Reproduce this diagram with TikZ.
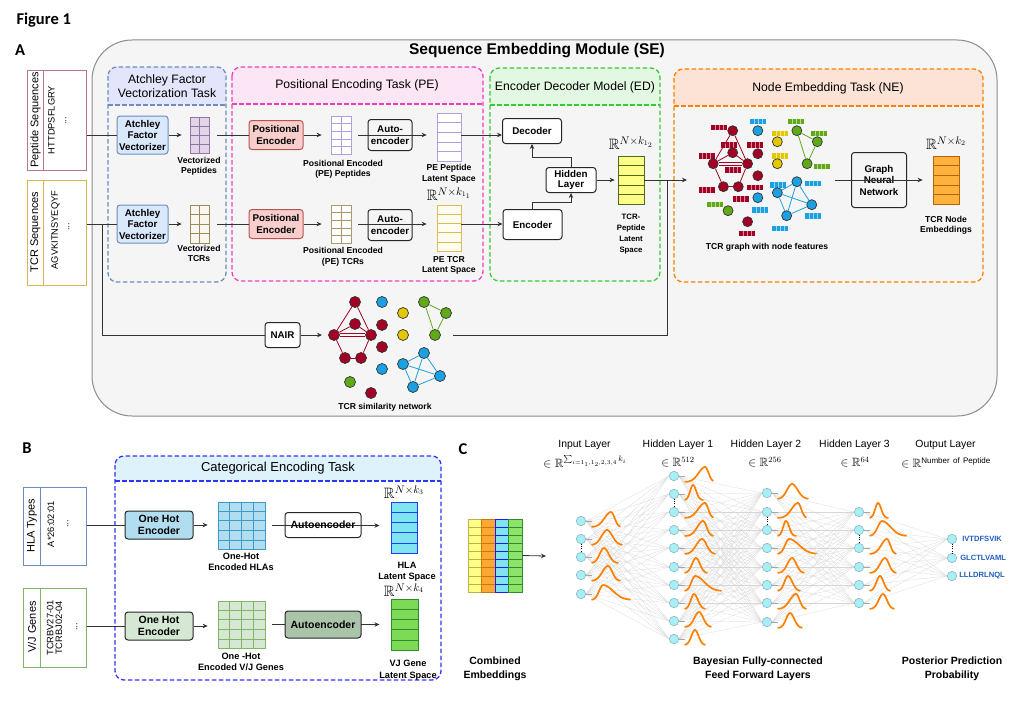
\documentclass[tikz,border=0pt]{standalone}
\usepackage{amssymb}
\usepackage{fontspec}
\setmainfont{Liberation Sans}
\newfontfamily\figfont{Carlito}
\usetikzlibrary{arrows.meta,calc}

\definecolor{linecol}{HTML}{333333}
\definecolor{sebg}{HTML}{F5F5F5}
\definecolor{seline}{HTML}{8C8C8C}
\definecolor{atline}{HTML}{6C8EBF}
\definecolor{athead}{HTML}{E3E6FA}
\definecolor{atfill}{HTML}{DAE8FC}
\definecolor{peline}{HTML}{EE3FC0}
\definecolor{pehead}{HTML}{FCE6F5}
\definecolor{pefill}{HTML}{F8CECC}
\definecolor{peborder}{HTML}{B85450}
\definecolor{edline}{HTML}{33CC33}
\definecolor{edhead}{HTML}{E3F8E3}
\definecolor{neline}{HTML}{FF8000}
\definecolor{nehead}{HTML}{FDE3D6}
\definecolor{catline}{HTML}{3333FF}
\definecolor{cathead}{HTML}{DDF2FB}
\definecolor{pepline}{HTML}{B5739D}
\definecolor{tcrline}{HTML}{D6B656}
\definecolor{hlaline}{HTML}{6C8EBF}
\definecolor{vjline}{HTML}{82B366}
\definecolor{vecpep}{HTML}{E1D5E7}
\definecolor{vecpepl}{HTML}{9673A6}
\definecolor{vectcr}{HTML}{F8F6EE}
\definecolor{vectcrl}{HTML}{9C8C5C}
\definecolor{pmpl}{HTML}{B39DDB}
\definecolor{pmtl}{HTML}{A89A70}
\definecolor{pelt}{HTML}{FFFDF0}
\definecolor{peltl}{HTML}{DDBB55}
\definecolor{edlatf}{HTML}{FFFF88}
\definecolor{edlatl}{HTML}{4D6B1E}
\definecolor{nematf}{HTML}{FFB13D}
\definecolor{nematl}{HTML}{B46504}
\definecolor{hotblue}{HTML}{B1DDF0}
\definecolor{hotbluel}{HTML}{3D9BC8}
\definecolor{hotgreen}{HTML}{D5E8D4}
\definecolor{aegreen}{HTML}{A9C4A9}
\definecolor{hlalatf}{HTML}{7FE5F0}
\definecolor{hlalatl}{HTML}{1F3FFF}
\definecolor{vjlatf}{HTML}{7ED957}
\definecolor{vjlatl}{HTML}{2D8A2D}
\definecolor{combyel}{HTML}{FFFF88}
\definecolor{combyell}{HTML}{B5B54A}
\definecolor{comborg}{HTML}{FFA733}
\definecolor{comborgl}{HTML}{C77A12}
\definecolor{combcyn}{HTML}{80E3EF}
\definecolor{combcynl}{HTML}{1A1AFF}
\definecolor{combgrn}{HTML}{8EE36B}
\definecolor{combgrnl}{HTML}{2E8B2E}
\definecolor{tcrred}{HTML}{A20025}
\definecolor{tcrblue}{HTML}{1BA1E2}
\definecolor{tcryellow}{HTML}{E3C800}
\definecolor{tcrgreen}{HTML}{60A917}
\definecolor{nnfill}{HTML}{A8EEF5}
\definecolor{nndraw}{HTML}{8CB8C0}
\definecolor{bellcol}{HTML}{FF8000}
\definecolor{peptext}{HTML}{1F5FBF}

\tikzset{
  arr/.style={-{Stealth[length=5pt,width=4.5pt]}, line width=0.8pt, draw=linecol},
  conn/.style={line width=0.8pt, draw=linecol},
  taskline/.style={line width=1.3pt, dash pattern=on 4.5pt off 2.5pt},
  tasktitle/.style={font=\fontsize{12.2}{14}\selectfont, align=center},
  panel/.style={font=\figfont\bfseries\fontsize{16.5}{18}\selectfont},
  procbox/.style={draw=black!85, line width=1pt, rounded corners=3, align=center,
    inner sep=0pt, font=\bfseries\fontsize{9.8}{11.5}\selectfont},
  lbl/.style={font=\bfseries\fontsize{8.6}{10.5}\selectfont, align=center, inner sep=0pt},
  rlab/.style={font=\fontsize{15}{15}\selectfont, inner sep=0pt},
  mat/.style n args={2}{draw, line width=0.7pt, inner sep=0pt, minimum width=#1, minimum height=#2},
  seqbox/.style={draw, line width=1pt, inner sep=0pt, fill=white},
  seqtitle/.style={rotate=90, font=\fontsize{11}{13}\selectfont},
  seqtext/.style={rotate=90, font=\fontsize{9.3}{8.9}\selectfont, align=center, inner sep=0pt},
  netnode/.style={circle, draw=black!80, line width=0.7pt, minimum size=11, inner sep=0pt},
  netedge/.style={line width=0.8pt},
  nnnode/.style={circle, fill=nnfill, draw=nndraw, line width=0.6pt, minimum size=9.5, inner sep=0pt},
  nnedge/.style={draw=gray!32, line width=0.25pt},
  stub/.style={draw=gray!70, line width=1pt},
  dotline/.style={line width=1pt, dash pattern=on 1pt off 1.2pt},
  bellline/.style={draw=bellcol, line width=1.7pt, line cap=round},
  layerhead/.style={font=\fontsize{10.4}{12}\selectfont},
  layermath/.style={font=\fontsize{12}{12}\selectfont, inner sep=0pt}
}

% task box: x1 y1 x2 y2 header-bottom border headfill
\newcommand{\taskbox}[7]{%
  \begin{scope}
    \clip[rounded corners=9] (#1,#2) rectangle (#3,#4);
    \fill[#7] (#1,#2) rectangle (#3,#5);
  \end{scope}
  \draw[taskline, draw=#6, rounded corners=9] (#1,#2) rectangle (#3,#4);
  \draw[taskline, draw=#6] (#1,#5) -- (#3,#5);}

\newcommand{\rowlines}[3]{%
  \pgfmathtruncatemacro{\nlast}{#2-1}%
  \foreach \k in {1,...,\nlast}{%
    \draw[draw=#3, line width=0.6pt] ($(#1.north west)!{\k/#2}!(#1.south west)$) -- ($(#1.north east)!{\k/#2}!(#1.south east)$);}}
\newcommand{\collines}[3]{%
  \pgfmathtruncatemacro{\nlast}{#2-1}%
  \foreach \k in {1,...,\nlast}{%
    \draw[draw=#3, line width=0.6pt] ($(#1.north west)!{\k/#2}!(#1.north east)$) -- ($(#1.south west)!{\k/#2}!(#1.south east)$);}}

% feature bar of the node embedding graph
\newcommand{\featbar}[3]{%
  \fill[#3] ({#1-8},{#2-2.6}) rectangle ({#1+8},{#2+2.6});
  \draw[white!55!#3, line width=0.6pt] ({#1-4},{#2-2.6}) -- ({#1-4},{#2+2.6})
    ({#1},{#2-2.6}) -- ({#1},{#2+2.6}) ({#1+4},{#2-2.6}) -- ({#1+4},{#2+2.6});}

% tcr network: #1 prefix, #2 x0, #3 y0, #4 x factor
\newcommand{\tcrnet}[4]{%
  \foreach \nn/\cc/\px/\py in {r1/tcrred/0/0, r2/tcrred/0/22, r3/tcrred/-21/33, r4/tcrred/16/33,
      r5/tcrred/-10/56, r6/tcrred/6/56, r7/tcrred/27/23, r8/tcrred/27/45, r9/tcrred/16/91,
      b1/tcrblue/27/0, b2/tcrblue/27/67, b3/tcrblue/69/51, b4/tcrblue/48/62, b5/tcrblue/85/74,
      b6/tcrblue/58/85, y1/tcryellow/48/11, y2/tcryellow/48/33,
      g1/tcrgreen/69/0, g2/tcrgreen/91/11, g3/tcrgreen/80/33, g4/tcrgreen/-5/80}
    \node[netnode, fill=\cc] (#1\nn) at ({#2+#4*\px},{#3+\py}) {};
  \foreach \pa/\pb in {r1/r3, r1/r4, r2/r3, r2/r4, r3/r5, r5/r6, r6/r4}
    \draw[netedge, tcrred] (#1\pa) -- (#1\pb);
  \draw[netedge, tcrred] ([yshift=1.3pt]#1r3.east) -- ([yshift=1.3pt]#1r4.west);
  \draw[netedge, tcrred] ([yshift=-1.3pt]#1r3.east) -- ([yshift=-1.3pt]#1r4.west);
  \foreach \pa/\pb in {b3/b4, b3/b5, b3/b6, b4/b5, b4/b6, b6/b5}
    \draw[netedge, tcrblue] (#1\pa) -- (#1\pb);
  \foreach \pa/\pb in {g1/g2, g2/g3, g1/g3}
    \draw[netedge, tcrgreen] (#1\pa) -- (#1\pb);}

% posterior bell curve right of a node: node, width, mean, left sd, right sd
\newcommand{\bell}[5]{%
  \begin{scope}[shift={(#1)}]
    \draw[bellline] plot[domain=0:#2, samples=30, smooth]
      ({11+\x},{6-15*exp(-((\x-#3)/#4)*((\x-#3)/#4)*(\x<#3)-((\x-#3)/#5)*((\x-#3)/#5)*(\x>=#3))});
  \end{scope}}

\begin{document}
\begin{tikzpicture}[x=1pt, y=-1pt]
\useasboundingbox (0,0) rectangle (1024,709);

% panel labels
\node[font=\figfont\bfseries\fontsize{16.5}{18}\selectfont, anchor=west] (figlabel) at (13,20) {Figure 1};
\node[panel] (pa) at (20,50) {A};
\node[panel] (pb) at (27,448) {B};
\node[panel] (pc) at (463,449) {C};

%%%%%%%% A: sequence embedding module
\draw[fill=sebg, draw=seline, line width=1pt, rounded corners=40] (92,40) rectangle (997,416);
\node[font=\bfseries\fontsize{15.5}{18}\selectfont] (setitle) at (537,51) {Sequence Embedding Module (SE)};

\taskbox{108}{67}{226}{282}{105}{atline}{athead}
\taskbox{232}{67}{483}{281}{104}{peline}{pehead}
\taskbox{490}{68}{660}{281}{105}{edline}{edhead}
\taskbox{674}{69}{983}{282}{106}{neline}{nehead}
\node[tasktitle] (attitle) at (167,86) {Atchley Factor\\Vectorization Task};
\node[tasktitle] (petitle) at (357,85) {Positional Encoding Task (PE)};
\node[tasktitle] (edtitle) at (575,87) {Encoder Decoder Model (ED)};
\node[tasktitle] (netitle) at (828,88) {Node Embedding Task (NE)};

% input sequences
\node[seqbox, draw=pepline, minimum width=59, minimum height=100] (pepbox) at (56.5,120) {};
\draw[pepline, line width=1pt] ($(pepbox.north west)+(17,0)$) -- ($(pepbox.south west)+(17,0)$);
\node[seqtitle] (peptitle) at (35.5,120) {Peptide Sequences};
\node[seqtext] (pepseq) at (51.5,120) {HTTDPSFLGRY};
\node[seqtext] (pepdots) at (66,121) {...};
\node[seqbox, draw=tcrline, minimum width=59, minimum height=105] (tcrbox) at (56.5,232.5) {};
\draw[tcrline, line width=1pt] ($(tcrbox.north west)+(17,0)$) -- ($(tcrbox.south west)+(17,0)$);
\node[seqtitle] (tcrtitle) at (35.5,232) {TCR Sequences};
\node[seqtext] (tcrseq) at (55.5,230) {AGVKITNSYEQYF};
\node[seqtext] (tcrdots) at (69,227) {...};

% atchley factors
\node[procbox, fill=atfill, draw=atline, minimum width=51, minimum height=38] (avp) at (142.5,135) {Atchley\\Factor\\Vectorizer};
\node[procbox, fill=atfill, draw=atline, minimum width=51, minimum height=38] (avt) at (142.5,224) {Atchley\\Factor\\Vectorizer};
\node[mat={19}{36}, fill=vecpep, draw=vecpepl] (vmp) at (199.5,135) {};
\collines{vmp}{2}{vecpepl} \rowlines{vmp}{4}{vecpepl}
\node[mat={19}{38}, fill=vectcr, draw=vectcrl] (vmt) at (199.5,224) {};
\collines{vmt}{2}{vectcrl} \rowlines{vmt}{4}{vectcrl}
\node[lbl] (vmplbl) at (199,166.5) {Vectorized\\Peptides};
\node[lbl] (vmtlbl) at (199,253.5) {Vectorized\\TCRs};

% positional encoding
\node[procbox, fill=pefill, draw=peborder, minimum width=54, minimum height=29] (pe1) at (276,135) {Positional\\Encoder};
\node[procbox, fill=pefill, draw=peborder, minimum width=54, minimum height=29] (pe2) at (276,224) {Positional\\Encoder};
\node[mat={20}{38}, fill=white, draw=pmpl] (pm1) at (341,135) {};
\collines{pm1}{2}{pmpl} \rowlines{pm1}{5}{pmpl}
\node[mat={20}{38}, fill=white, draw=pmtl] (pm2) at (341,224) {};
\collines{pm2}{2}{pmtl} \rowlines{pm2}{5}{pmtl}
\node[procbox, minimum width=44, minimum height=31] (ae1) at (390,135) {Auto-\\encoder};
\node[procbox, minimum width=44, minimum height=31] (ae2) at (390,225) {Auto-\\encoder};
\node[mat={24}{48}, fill=white, draw=pmpl] (pel1) at (449,137) {};
\rowlines{pel1}{5}{pmpl}
\node[mat={24}{46}, fill=pelt, draw=peltl] (pel2) at (449,228) {};
\rowlines{pel2}{5}{peltl}
\node[lbl] (pm1lbl) at (343,169.5) {Positional Encoded\\(PE) Peptides};
\node[lbl] (pm2lbl) at (343,257) {Positional Encoded\\(PE) TCRs};
\node[lbl] (pel1lbl) at (449,174) {PE Peptide\\Latent Space};
\node[lbl] (pel2lbl) at (449,265.5) {PE TCR\\Latent Space};
\node[rlab] (pel2dim) at (449,194) {$\mathbb{R}^{N\times k_{1_1}}$};

% encoder decoder
\node[procbox, fill=white, minimum width=59, minimum height=25] (dec) at (532,131) {Decoder};
\node[procbox, fill=white, minimum width=59, minimum height=30] (enc) at (532.5,224.5) {Encoder};
\node[procbox, fill=white, minimum width=50, minimum height=25, font=\bfseries\fontsize{9.8}{10.8}\selectfont] (hid) at (571,180) {Hidden\\Layer};
\node[mat={26}{48}, fill=edlatf, draw=edlatl] (edlat) at (631,180) {};
\rowlines{edlat}{5}{edlatl}
\node[rlab] (edlatdim) at (631,143) {$\mathbb{R}^{N\times k_{1_2}}$};
\node[lbl, font=\bfseries\fontsize{7.8}{11}\selectfont] (edlatlbl) at (631,234) {TCR-\\Peptide\\Latent\\Space};

% node embedding
\foreach \fx/\fy in {719.3/127.3, 729.3/145, 706.7/156, 755/145, 733.3/170, 706.7/190, 755/187.3, 740.7/199, 747.3/233.3}
  {\featbar{\fx}{\fy}{tcrred}}
\foreach \fx/\fy in {758.3/121.7, 778.3/185, 813.3/183.3, 760/210, 813.3/216, 780/228.3}
  {\featbar{\fx}{\fy}{tcrblue}}
\foreach \fx/\fy in {780/133.3, 780/156}
  {\featbar{\fx}{\fy}{tcryellow}}
\foreach \fx/\fy in {796/121.7, 819.3/133.3, 821.7/166.7, 715/204.3}
  {\featbar{\fx}{\fy}{tcrgreen}}
\begin{scope}[netnode/.append style={minimum size=10}]
  \tcrnet{ne}{732.7}{130.7}{0.93}
\end{scope}
\node[lbl] (graphlbl) at (767,247.5) {TCR graph with node features};
\node[procbox, minimum width=55, minimum height=55] (gnn) at (879,180) {Graph\\Neural\\Network};
\node[mat={26}{48}, fill=nematf, draw=nematl] (nemat) at (946,180) {};
\rowlines{nemat}{5}{nematl}
\node[rlab] (nematdim) at (946,143) {$\mathbb{R}^{N\times k_2}$};
\node[lbl] (nematlbl) at (946,225.5) {TCR Node\\Embeddings};

% similarity network
\node[procbox, fill=white, minimum width=35, minimum height=25] (nair) at (282.5,335) {NAIR};
\tcrnet{nair}{355}{302}{1}
\node[lbl] (nairlbl) at (385,407) {TCR similarity network};

% connectors of A
\coordinate (nairsplit) at (102,224);
\coordinate (netin) at (322,335);
\coordinate (netout) at (453,335);
\coordinate (edjoin) at (667,180);
\coordinate (graphin) at (687,180);
\coordinate (graphout) at (835,180);
\draw[conn] (pepbox.east |- avp.west) -- (avp.west);
\draw[conn] (tcrbox.east |- avt.west) -- (avt.west);
\draw[conn] (nairsplit) |- (nair.west);
\draw[arr] (nair.east) -- (netin);
\draw[arr, shorten >=8] (avp.east) -- (avp.east -| vmp.west);
\draw[arr, shorten >=8] (avt.east) -- (avt.east -| vmt.west);
\draw[conn, shorten <=8] (vmp.east) -- (vmp.east -| pe1.west);
\draw[conn, shorten <=8] (vmt.east) -- (vmt.east -| pe2.west);
\draw[arr, shorten >=9] (pe1.east) -- (pe1.east -| pm1.west);
\draw[arr, shorten >=9] (pe2.east) -- (pe2.east -| pm2.west);
\draw[arr, shorten <=7, shorten >=10] (pm1.east) -- (pm1.east -| pel1.west);
\draw[arr, shorten <=7, shorten >=10] (pm2.east) -- (pm2.east -| pel2.west);
\draw[arr] (pm1.east -| pel1.east) -- (pm1.east -| dec.west);
\draw[arr] (pm2.east -| pel2.east) -- (pm2.east -| enc.west);
\draw[arr] (enc.north) -- ++(0,-7) -| (hid.south);
\draw[arr] (hid.north) -- ++(0,-9.5) -| (dec.south);
\draw[arr, shorten >=3] (hid.east) -- (edlat.west);
\draw[conn] (edlat.east) -- (edjoin);
\draw[conn] (netout) -| (edjoin);
\draw[arr] (edjoin) -- (graphin);
\draw[arr, shorten >=10] (graphout) -- (graphout -| nemat.west);

%%%%%%%% B: categorical encoding
\taskbox{115}{456}{441}{680}{481}{catline}{cathead}
\node[tasktitle, font=\fontsize{13}{15}\selectfont] (cattitle) at (278,468) {Categorical Encoding Task};

\node[seqbox, draw=hlaline, minimum width=63, minimum height=78] (hlabox) at (54.5,526) {};
\draw[hlaline, line width=1pt] ($(hlabox.north west)+(18,0)$) -- ($(hlabox.south west)+(18,0)$);
\node[seqtitle] (hlatitle) at (32,526) {HLA Types};
\node[seqtext] (hlaseq) at (51,524) {A*26:02:01};
\node[seqtext] (hladots) at (68,524) {...};
\node[seqbox, draw=vjline, minimum width=63, minimum height=79] (vjbox) at (54.5,627.5) {};
\draw[vjline, line width=1pt] ($(vjbox.north west)+(18,0)$) -- ($(vjbox.south west)+(18,0)$);
\node[seqtitle] (vjtitle) at (32,627) {V/J Genes};
\node[seqtext] (vjseq) at (54.5,628) {TCRBV27-01\\TCRBJ02-04};
\node[seqtext] (vjdots) at (77,627) {...};

\node[procbox, fill=hotblue, minimum width=68, minimum height=28, font=\bfseries\fontsize{10.5}{12.5}\selectfont] (ohe1) at (159,525) {One Hot\\Encoder};
\node[procbox, fill=hotgreen, minimum width=68, minimum height=28, font=\bfseries\fontsize{10.5}{12.5}\selectfont] (ohe2) at (159,626) {One Hot\\Encoder};
\node[mat={47}{47}, fill=hotblue, draw=hotbluel] (hm) at (241.5,525.5) {};
\collines{hm}{4}{hotbluel} \rowlines{hm}{5}{hotbluel}
\node[mat={47}{47}, fill=hotgreen, draw=vjline] (vm) at (241.5,624.5) {};
\collines{vm}{4}{vjline} \rowlines{vm}{5}{vjline}
\node[lbl, font=\bfseries\fontsize{9.2}{11.5}\selectfont] (hmlbl) at (241,562) {One-Hot\\Encoded HLAs};
\node[lbl, font=\bfseries\fontsize{9.2}{11.5}\selectfont] (vmlbl) at (241,662) {One -Hot\\Encoded V/J Genes};
\node[mat={26}{51}, fill=hlalatf, draw=hlalatl, line width=1pt] (hl) at (404,527.5) {};
\rowlines{hl}{5}{hlalatl}
\node[mat={27}{51}, fill=vjlatf, draw=vjlatl, line width=1pt] (vl) at (404.5,624.5) {};
\rowlines{vl}{5}{vjlatl}
\node[rlab] (hldim) at (404,492) {$\mathbb{R}^{N\times k_3}$};
\node[rlab] (vldim) at (404,590) {$\mathbb{R}^{N\times k_4}$};
\node[lbl, font=\bfseries\fontsize{9.2}{11.5}\selectfont] (hllbl) at (407,572) {HLA\\Latent Space};
\node[lbl, font=\bfseries\fontsize{9.2}{11.5}\selectfont] (vllbl) at (408,670) {VJ Gene\\Latent Space};

\draw[conn] (hlabox.east |- ohe1.west) -- (ohe1.west);
\draw[conn] (vjbox.east |- ohe2.west) -- (ohe2.west);
\draw[arr, shorten >=10] (ohe1.east) -- (ohe1.east -| hm.west);
\draw[arr, shorten >=10] (ohe2.east) -- (ohe2.east -| vm.west);
\draw[arr, shorten <=7, shorten >=11] (hm.east) -- (hm.east -| hl.west);
\draw[arr, shorten <=7, shorten >=11] (vm.east) -- (vm.east -| vl.west);
\node[procbox, minimum width=76, minimum height=25, font=\bfseries\fontsize{10.5}{12.5}\selectfont] (ae3) at (323,525) {Autoencoder};
\node[procbox, fill=aegreen, minimum width=76, minimum height=27, font=\bfseries\fontsize{10.5}{12.5}\selectfont] (ae4) at (323,624.5) {Autoencoder};

%%%%%%%% C: bayesian network
\foreach \cx/\fc/\dc [count=\i] in {474.75/combyel/combyell, 488.25/comborg/comborgl, 501.75/combcyn/combcynl, 515.25/combgrn/combgrnl}{
  \node[mat={13.5}{73}, fill=\fc, draw=\dc] (cc\i) at (\cx,555.5) {};
  \rowlines{cc\i}{9}{\dc}}
\coordinate (combout) at (546,556);
\draw[arr] (cc4.east) -- (combout);
\node[font=\bfseries\fontsize{10.5}{14}\selectfont, align=center] (comblbl) at (495,669) {Combined\\Embeddings};

\foreach \y [count=\i] in {521,539,557,575,594} \node[nnnode] (in\i) at (581,\y) {};
\foreach \y [count=\i] in {476,494,512,530,548,567,585,603,621,639} \node[nnnode] (ha\i) at (674,\y) {};
\foreach \y [count=\i] in {493,512,530,548,567,585,603,622} \node[nnnode] (hb\i) at (767,\y) {};
\foreach \y [count=\i] in {512,530,548,567,585,603} \node[nnnode] (hc\i) at (859,\y) {};
\foreach \y [count=\i] in {539,558,576} \node[nnnode] (out\i) at (952,\y) {};

\foreach \i in {1,...,5} \foreach \j in {1,...,10} \draw[nnedge] (in\i.east) -- (ha\j.west);
\foreach \i in {1,...,10} \foreach \j in {1,...,8} \draw[nnedge] (ha\i.east) -- (hb\j.west);
\foreach \i in {1,...,8} \foreach \j in {1,...,6} \draw[nnedge] (hb\i.east) -- (hc\j.west);
\foreach \i in {1,...,6} \foreach \j in {1,...,3} \draw[nnedge] (hc\i.east) -- (out\j.west);

\foreach \n in {in1,in2,in3,in4,in5,ha1,ha2,ha3,ha4,ha5,ha6,ha7,ha8,ha9,ha10,
    hb1,hb2,hb3,hb4,hb5,hb6,hb7,hb8,hc1,hc2,hc3,hc4,hc5,hc6}
  \draw[stub] (\n.east) -- ++(6,0);
\draw[dotline] (in2.south) -- (in3.north);
\draw[dotline] (ha2.south) -- (ha3.north);
\draw[dotline] (hb2.south) -- (hb3.north);
\draw[dotline] (hc2.south) -- (hc3.north);
\draw[dotline] (out1.south) -- (out2.north);

% posterior bells
\foreach \n/\w/\m/\sl/\sr in {in1/28/19/9/5, in2/30/15/7.5/7.5, in3/26/12/6/6.5, in4/28/16/8/6, in5/38/11/5.5/14,
    ha1/28/20/9/5, ha2/18/8/4/4.5, ha3/28/20/9.5/4.5, ha4/28/18/8/5, ha5/30/17/8/6.5,
    ha6/22/11/5.5/5.5, ha7/36/10/5/13, ha8/20/9/4.5/5.5, ha9/26/14/6.5/6, ha10/20/10/5/5,
    hb1/30/14/7/8, hb2/28/20/9/4.5, hb3/18/8/4/4.5, hb4/38/11/5.5/14, hb5/26/14/6.5/6,
    hb6/22/10/5/6, hb7/28/18/8.5/5, hb8/24/12/5.5/6,
    hc1/18/8/4/4.5, hc2/36/12/6/12, hc3/26/17/8/4.5, hc4/26/15/7/5.5, hc5/20/10/5/5, hc6/24/13/6/5.5}
  {\bell{\n}{\w}{\m}{\sl}{\sr}}

\foreach \pep/\gap [count=\i] in {IVTDFSVIK/5, GLCTLVAML/3, LLLDRLNQL/2}
  \node[anchor=west, text=peptext, font=\bfseries\fontsize{7.6}{9}\selectfont, inner sep=0pt] (outlbl\i) at ($(out\i.east)+(\gap,0)$) {\pep};

\node[layerhead] (inhead) at (584.5,445) {Input Layer};
\node[layermath] (inmath) at (585,462) {$\in\mathbb{R}^{\sum_{i=1_1,1_2,2,3,4}k_i}$};
\node[layerhead] (hahead) at (678,445) {Hidden Layer 1};
\node[layermath] (hamath) at (678,462) {$\in\mathbb{R}^{512}$};
\node[layerhead] (hbhead) at (766,445) {Hidden Layer 2};
\node[layermath] (hbmath) at (765,462) {$\in\mathbb{R}^{256}$};
\node[layerhead] (hchead) at (854.5,445) {Hidden Layer 3};
\node[layermath] (hcmath) at (855,462) {$\in\mathbb{R}^{64}$};
\node[layerhead] (outhead) at (945.5,445) {Output Layer};
\node[layermath] (outmath) at (946,463) {$\in\mathbb{R}^{\mathrm{Number\ of\ Peptide}}$};

\node[font=\bfseries\fontsize{10.5}{14}\selectfont, align=center] (bnnlbl) at (758,669) {Bayesian Fully-connected\\Feed Forward Layers};
\node[font=\bfseries\fontsize{10.5}{14}\selectfont, align=center] (postlbl) at (952,669) {Posterior Prediction\\Probability};
\end{tikzpicture}
\end{document}
